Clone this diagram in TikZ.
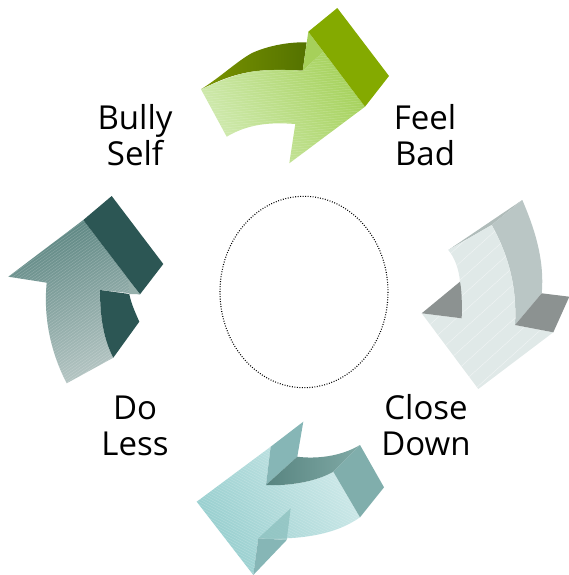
\documentclass[tikz,border=0pt]{standalone}
\usepackage{fontspec}
\setmainfont{Open Sans}
\definecolor{gTopL}{RGB}{122,148,0}
\definecolor{gTopR}{RGB}{84,114,0}
\definecolor{gFaceL}{RGB}{208,234,176}
\definecolor{gFaceR}{RGB}{166,210,92}
\definecolor{gMid}{RGB}{166,208,90}
\definecolor{gEnd}{RGB}{132,170,0}
\definecolor{sTop}{RGB}{176,188,186}
\definecolor{sSide}{RGB}{186,198,197}
\definecolor{sFace}{RGB}{224,233,232}
\definecolor{sDark}{RGB}{140,146,145}
\definecolor{tFaceL}{RGB}{150,206,206}
\definecolor{tFaceR}{RGB}{204,232,232}
\definecolor{tWing}{RGB}{134,182,182}
\definecolor{tInL}{RGB}{88,132,128}
\definecolor{tInR}{RGB}{128,170,166}
\definecolor{tEnd}{RGB}{128,174,172}
\definecolor{tMid}{RGB}{140,192,190}
\definecolor{dFaceT}{RGB}{92,134,130}
\definecolor{dFaceB}{RGB}{182,198,196}
\definecolor{dDark}{RGB}{44,86,84}
\definecolor{dMid}{RGB}{150,176,172}
% #1 clip path, #2 centre, #3 angle, #4 half-count, #5 spacing, #6 line options
\newcommand\hatchface[6]{%
  \begin{scope}
    \clip #1;
    \begin{scope}[shift={#2},rotate=#3]
      \foreach \k in {-#4,...,#4} {\draw[#6] (-220,\k*#5) -- (220,\k*#5);}
    \end{scope}
  \end{scope}}
\begin{document}
\begin{tikzpicture}[x=1pt,y=-1pt,
  lbl/.style={font=\fontsize{33}{36}\selectfont,align=center,inner sep=0pt,text=black},
  ring/.style={draw=black,line width=1.1pt,dash pattern=on 0.9pt off 1.6pt},
  fine/.style={white,line width=.45pt,opacity=.22},
  sparse/.style={white,line width=.4pt,opacity=.55}]
\useasboundingbox (0,0) rectangle (569,575);
% --- green arrow (top)
\shade[left color=gTopL,right color=gTopR]
  (201,89.3) .. controls (222,76) and (236,62) .. (252,53) .. controls (270,45) and (290,42) .. (306.7,42.3) -- (302.7,70.7) .. controls (285,70) and (262,69) .. (245,73) .. controls (228,76) and (212,84) .. (201,89.3) -- cycle;
\shade[left color=gFaceL,right color=gFaceR,shading angle=120]
  (201,89.3) .. controls (222,80) and (240,72) .. (262,70.5) .. controls (278,69.5) and (290,70) .. (302.7,70.7) -- (323.3,51.7) -- (365,106.7) -- (289.3,163.3) -- (295.3,124) .. controls (270,122) and (248,124) .. (226.7,136.7) -- cycle;
\hatchface{(201,89.3) .. controls (222,80) and (240,72) .. (262,70.5) .. controls (278,69.5) and (290,70) .. (302.7,70.7) -- (323.3,51.7) -- (365,106.7) -- (289.3,163.3) -- (295.3,124) .. controls (270,122) and (248,124) .. (226.7,136.7) -- cycle}{(285,100)}{5}{30}{2.5}{fine}
\fill[gMid] (308.3,31.7) -- (323.3,51.7) -- (302.7,70.7) -- cycle;
\fill[gEnd] (308.3,31.7) -- (337.3,8) -- (389,76) -- (365,106.7) -- cycle;
% --- grey arrow (right)
\fill[sTop] (448.3,250) -- (522.3,200) -- (491.7,225) -- cycle;
\fill[sSide] (491.7,225) -- (522.3,200) .. controls (533,225) and (545,258) .. (541.7,293.3) -- (515,325) .. controls (517,290) and (510,258) .. (491.7,225) -- cycle;
\fill[sFace] (448.3,250) -- (491.7,225) .. controls (510,258) and (517,290) .. (515,325) -- (553.3,332.3) -- (478.3,389) -- (421.7,313.3) -- (461.7,318.3) -- (460,281.7) .. controls (459,270) and (455,258) .. (448.3,250) -- cycle;
\hatchface{(448.3,250) -- (491.7,225) .. controls (510,258) and (517,290) .. (515,325) -- (553.3,332.3) -- (478.3,389) -- (421.7,313.3) -- (461.7,318.3) -- (460,281.7) .. controls (459,270) and (455,258) .. (448.3,250) -- cycle}{(485,310)}{42}{8}{13}{sparse}
\fill[sDark] (421.7,313.3) -- (460,281.7) .. controls (462,292) and (462,305) .. (461.7,318.3) -- cycle;
\fill[sDark] (541.7,293.3) -- (569.3,296.7) -- (553.3,332.3) -- (515,325) -- cycle;
% --- teal arrow (bottom)
\shade[left color=tFaceL,right color=tFaceR,shading angle=120]
  (196.7,501.7) -- (270.7,446.7) -- (266,485) .. controls (280,486) and (312,484) .. (333.3,471.7) -- (360,517.3) .. controls (335,535) and (300,540) .. (258.3,538.3) -- (253.3,575) -- cycle;
\hatchface{(196.7,501.7) -- (270.7,446.7) -- (266,485) .. controls (280,486) and (312,484) .. (333.3,471.7) -- (360,517.3) .. controls (335,535) and (300,540) .. (258.3,538.3) -- (253.3,575) -- cycle}{(280,505)}{-28}{30}{2.5}{fine}
\fill[tWing] (270.7,446.7) -- (303.3,421.7) -- (297.3,456.7) -- (266,485) -- cycle;
\shade[left color=tInL,right color=tInR]
  (266,485) -- (297.3,456.7) .. controls (315,459) and (340,457) .. (360,445) -- (333.3,471.7) .. controls (312,484) and (280,486) .. (266,485) -- cycle;
\fill[tEnd] (333.3,471.7) -- (360,445) -- (384,487.3) -- (360,517.3) -- cycle;
\fill[tWing] (258.3,538.3) -- (286.7,540) -- (253.3,575) -- cycle;
\fill[tMid,opacity=.75] (258.3,538.3) -- (290.7,508.3) -- (286.7,540) -- cycle;
% --- dark teal arrow (left)
\shade[top color=dFaceT,bottom color=dFaceB,shading angle=20]
  (8.3,276.7) -- (83.3,220) -- (140,294.3) -- (100,290) .. controls (100,315) and (103,338) .. (113.3,357.7) -- (66.7,383.3) .. controls (52,355) and (43,320) .. (46.7,282.7) -- cycle;
\hatchface{(8.3,276.7) -- (83.3,220) -- (140,294.3) -- (100,290) .. controls (100,315) and (103,338) .. (113.3,357.7) -- (66.7,383.3) .. controls (52,355) and (43,320) .. (46.7,282.7) -- cycle}{(80,300)}{35}{36}{2.5}{fine}
\fill[dDark] (100,290) -- (129.3,294) .. controls (131,303) and (135,312) .. (139.3,321.7) -- (113.3,357.7) .. controls (103,338) and (100,315) .. (100,290) -- cycle;
\fill[dDark] (83.3,220) -- (111.7,196) -- (163.3,264) -- (140,294.3) -- cycle;
\fill[dMid] (128.3,280) -- (140,294.3) -- (129.3,294) -- cycle;
% --- centre ring
\draw[ring] (304,292) ellipse [x radius=84,y radius=95.7];
% --- labels
\node[lbl] (bully) at (135,135) {Bully\\Self};
\node[lbl] (feel) at (425,135) {Feel\\Bad};
\node[lbl] (close) at (426,425) {Close\\Down};
\node[lbl] (do) at (135,426) {Do\\Less};
\end{tikzpicture}
\end{document}
